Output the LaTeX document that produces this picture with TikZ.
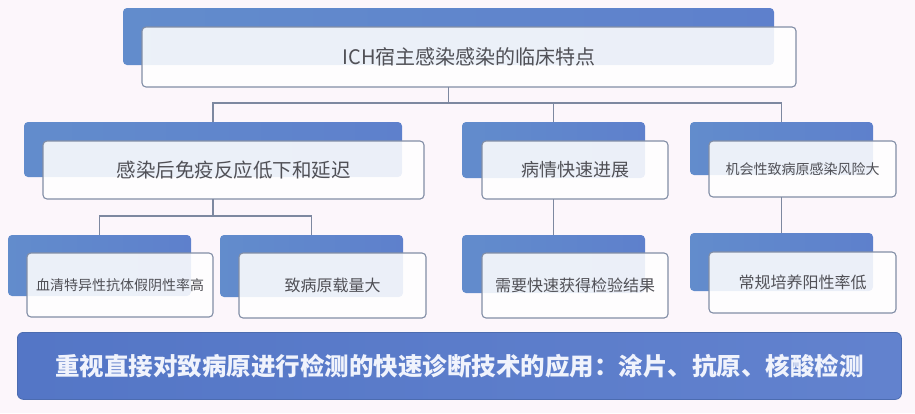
\documentclass[tikz,border=0pt]{standalone}
\usepackage{fontspec}
\newfontfamily\cjk{Noto Sans CJK SC}
\usetikzlibrary{calc}
\definecolor{bg}{RGB}{252,246,251}
\definecolor{blueL}{RGB}{98,140,204}
\definecolor{blueR}{RGB}{94,128,204}
\definecolor{edge}{RGB}{130,142,166}
\definecolor{conn}{RGB}{125,136,160}
\definecolor{txt}{RGB}{80,80,86}
\definecolor{banL}{RGB}{84,118,198}
\definecolor{banR}{RGB}{98,130,206}
\definecolor{banE}{RGB}{76,108,176}
\definecolor{bantxt}{RGB}{240,243,252}
\begin{document}
\begin{tikzpicture}[x=1pt,y=-1pt,
  back/.style={rounded corners=4pt, left color=blueL, right color=blueR, anchor=north west, inner sep=0pt, outer sep=0pt},
  front/.style={draw=edge, line width=1.1pt, rounded corners=4pt, fill=white, fill opacity=0.88, text opacity=1, anchor=north west, inner sep=0pt, outer sep=0pt, text=txt, align=center},
  wire/.style={draw=conn, line width=1.2pt},
  fs/.style={font=\cjk\fontsize{#1}{#1}\selectfont},
  banner/.style={draw=banE, line width=0.8pt, rounded corners=6pt, left color=banL, right color=banR, anchor=north west, inner sep=0pt, text=bantxt, font=\cjk\bfseries\fontsize{24.5}{26}\selectfont}
]
\fill[bg] (0,0) rectangle (915,413);
\useasboundingbox (0,0) rectangle (915,413);

% top
\node[back, minimum width=651pt, minimum height=57pt] (tb) at (123,8) {};
\node[front, fs=20, minimum width=654pt, minimum height=60pt] (tf) at (142,27) {ICH宿主感染感染的临床特点};

% level 2
\node[back, minimum width=378pt, minimum height=55pt] (lab) at (24,122) {};
\node[front, fs=19.5, minimum width=381pt, minimum height=58pt] (laf) at (43,141) {感染后免疫反应低下和延迟};
\node[back, minimum width=183pt, minimum height=56pt] (mb) at (462,122) {};
\node[front, fs=18, minimum width=186pt, minimum height=58pt] (mf) at (482,141) {病情快速进展};
\node[back, minimum width=183pt, minimum height=53pt] (rb) at (690,122) {};
\node[front, fs=14, minimum width=187pt, minimum height=56pt] (rf) at (709,141) {机会性致病原感染风险大};

% level 3
\node[back, minimum width=183pt, minimum height=61pt] (a1b) at (8,235) {};
\node[front, fs=14, minimum width=186pt, minimum height=64pt] (a1f) at (27,253) {血清特异性抗体假阴性率高};
\node[back, minimum width=183pt, minimum height=62pt] (a2b) at (220,235) {};
\node[front, fs=16, minimum width=187pt, minimum height=65pt] (a2f) at (239,253) {致病原载量大};
\node[back, minimum width=183pt, minimum height=58pt] (m3b) at (462,235) {};
\node[front, fs=16, minimum width=186pt, minimum height=65pt] (m3f) at (482,253) {需要快速获得检验结果};
\node[back, minimum width=183pt, minimum height=58pt] (r3b) at (690,233) {};
\node[front, fs=16, minimum width=187pt, minimum height=61pt] (r3f) at (709,252) {常规培养阳性率低};

% banner
\node[banner, minimum width=884pt, minimum height=67pt] (ban) at (17,332) {重视直接对致病原进行检测的快速诊断技术的应用：涂片、抗原、核酸检测};

% connectors
\coordinate (bus1) at (0,103);
\coordinate (bus2) at (0,216);
\draw[wire] (tb.south |- tf.south) -- (tb.south |- bus1);
\draw[wire] (lab.north) -- (lab.north |- bus1) -- (rb.north |- bus1) -- (rb.north);
\draw[wire] (mb.north |- bus1) -- (mb.north);
\draw[wire] (lab.south |- laf.south) -- (lab.south |- bus2);
\draw[wire] (a1b.north) -- (a1b.north |- bus2) -- (a2b.north |- bus2) -- (a2b.north);
\draw[wire] (mb.south |- mf.south) -- (m3b.north);
\draw[wire] (rb.south |- rf.south) -- (r3b.north);
\end{tikzpicture}
\end{document}
